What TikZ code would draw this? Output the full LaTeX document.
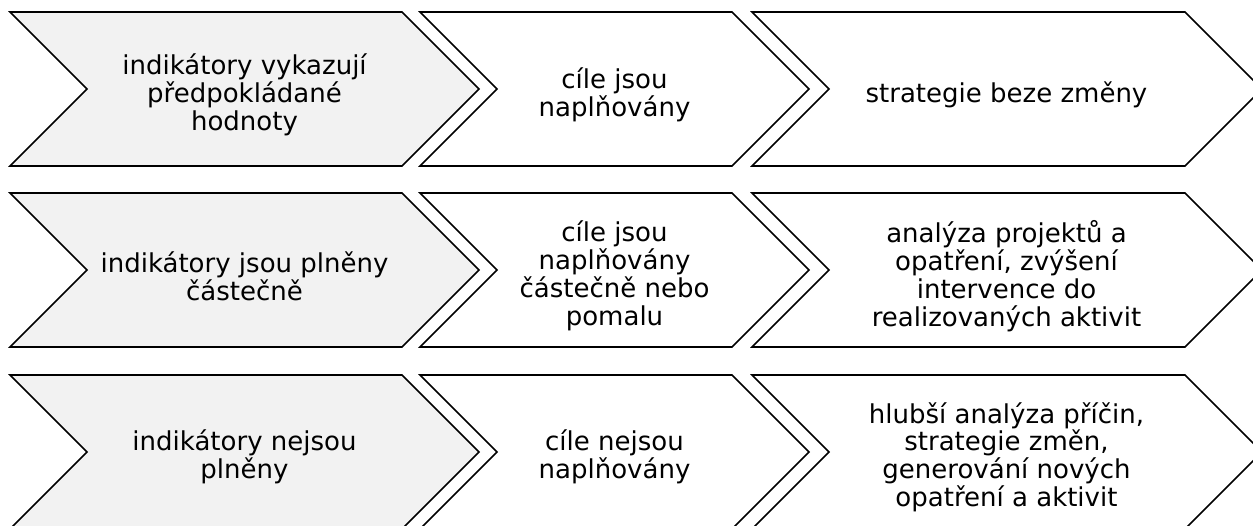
\documentclass[tikz,border=0pt]{standalone}
\usepackage{xcolor}
\usepackage{fontspec}
\setmainfont{DejaVu Sans}
\definecolor{chevrongray}{HTML}{F2F2F2}
\tikzset{%
    every chevron/.style={
        draw=black,
        fill=white,
        line width=1.6pt,
        line join=miter
    },
    chevron first/.style={
        fill=chevrongray
    },
    chevron text/.style={
        align=center,
        inner sep=0pt,
        font=\fontsize{26}{27.8}\selectfont
    },
}

\begin{document}
\begin{tikzpicture}[x=1pt, y=-1pt]

        \clip (0,0) rectangle (1253,525);

        \foreach \l/\r/\m in {10/402/first,420/732/other,752/1185/other}
            \foreach \t in {12,193,375}
                \draw [every chevron, chevron \m/.try] (\l,\t) -- (\r,\t) -- ++(77,77) -- ++(-77,77)
                    -- (\l,\t+154) -- ++(77,-77) -- cycle;

        \foreach \l [count=\y] in {{indikátory vykazují\\předpokládané\\hodnoty},
                {indikátory jsou plněny\\částečně},
                {indikátory nejsou\\plněny}}
            \node [chevron text] (ind-\y) at (244.5,181*\y-86) {\l};

        \foreach \l [count=\y] in {{cíle jsou\\naplňovány},
                {cíle jsou\\naplňovány\\částečně nebo\\pomalu},
                {cíle nejsou\\naplňovány}}
            \node [chevron text] (goal-\y) at (614.5,181*\y-86) {\l};

        \foreach \l [count=\y] in {{strategie beze změny},
                {analýza projektů a\\opatření, zvýšení\\intervence do\\realizovaných aktivit},
                {hlubší analýza příčin,\\strategie změn,\\generování nových\\opatření a aktivit}}
            \node [chevron text] (resp-\y) at (1006.5,181*\y-86) {\l};

    \end{tikzpicture}
\end{document}
